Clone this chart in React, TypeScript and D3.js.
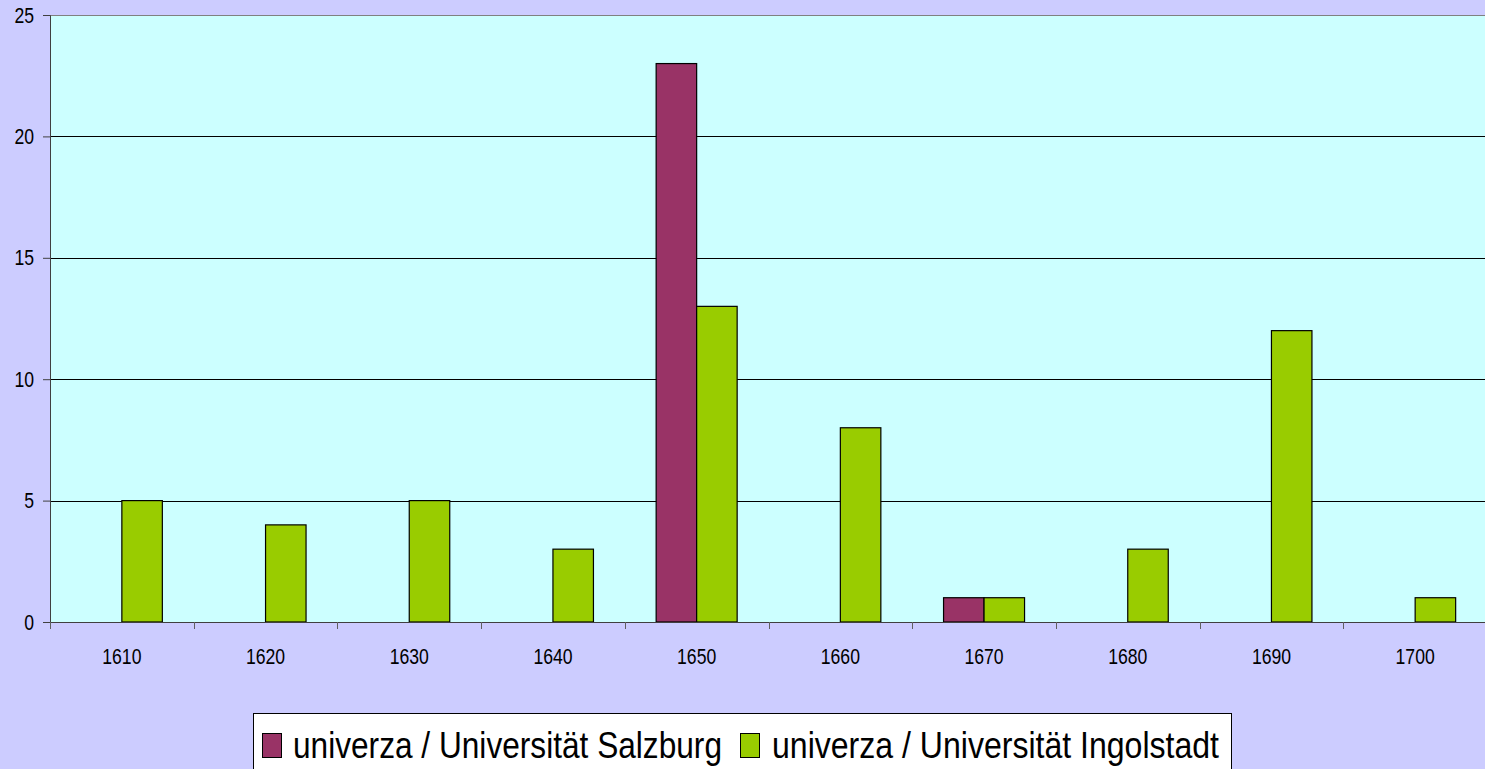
import React, { useEffect, useRef } from 'react';
import * as d3 from 'd3';

const categories = ['1610', '1620', '1630', '1640', '1650', '1660', '1670', '1680', '1690', '1700'];
const salzburg = [0, 0, 0, 0, 23, 0, 1, 0, 0, 0];
const ingolstadt = [5, 4, 5, 3, 13, 8, 1, 3, 12, 1];
const seriesNames = ['univerza / Universität Salzburg', 'univerza / Universität Ingolstadt'];
const seriesColors = ['#993366', '#99cc00'];
const yTicks = [0, 5, 10, 15, 20, 25];

const W = 1485;
const H = 769;
const FONT = '"Liberation Sans", Arial, sans-serif';
const SQUEEZE = 0.8;

const App = () => {
  const ref = useRef<SVGSVGElement>(null);

  useEffect(() => {
    const svg = d3.select(ref.current);
    svg.selectAll('*').remove();

    const left = 50, top = 15, bottom = 622;
    const right = left + 143.7 * categories.length;

    svg.append('rect').attr('width', W).attr('height', H).attr('fill', '#ccccff');

    const x = d3.scaleBand().domain(categories).range([left, right]);
    const y = d3.scaleLinear().domain([0, 25]).range([bottom, top]);
    const barW = 40.5;

    // plot area
    svg.append('rect')
      .attr('x', left).attr('y', top)
      .attr('width', right - left).attr('height', bottom - top)
      .attr('fill', '#ccffff');

    // gridlines
    svg.append('g').selectAll('line')
      .data(yTicks.filter(t => t > 0))
      .join('line')
      .attr('x1', left).attr('x2', right)
      .attr('y1', d => Math.round(y(d)) + 0.5).attr('y2', d => Math.round(y(d)) + 0.5)
      .attr('stroke', d => (d === 25 ? '#808080' : '#000'))
      .attr('stroke-width', 1);

    // bars
    const series = [salzburg, ingolstadt];
    series.forEach((vals, si) => {
      svg.append('g').selectAll('rect')
        .data(vals.map((v, i) => ({ v, c: categories[i] })).filter(d => d.v > 0))
        .join('rect')
        .attr('x', d => (x(d.c) as number) + x.bandwidth() / 2 - barW + si * barW)
        .attr('y', d => y(d.v))
        .attr('width', barW)
        .attr('height', d => bottom - y(d.v))
        .attr('fill', seriesColors[si])
        .attr('stroke', '#000')
        .attr('stroke-width', 1.2);
    });

    // y axis
    const yAxis = svg.append('g').attr('transform', `translate(${left},0)`)
      .call(d3.axisLeft(y).tickValues(yTicks).tickSize(7));
    yAxis.select('.domain').attr('stroke', '#404040');
    yAxis.selectAll('line').attr('stroke', '#404040');
    yAxis.selectAll('text')
      .attr('font-family', FONT).attr('font-size', 22).attr('fill', '#000')
      .attr('x', -16 / SQUEEZE)
      .attr('transform', `scale(${SQUEEZE},1)`);

    // x axis
    const xAxis = svg.append('g').attr('transform', `translate(0,${bottom})`)
      .call(d3.axisBottom(x).tickSize(0).tickPadding(26));
    xAxis.select('.domain').attr('stroke', '#404040');
    xAxis.selectAll('text')
      .attr('font-family', FONT).attr('font-size', 22).attr('fill', '#000')
      .attr('transform', `scale(${SQUEEZE},1)`);
    xAxis.append('g').selectAll('line')
      .data(categories)
      .join('line')
      .attr('x1', d => Math.round(x(d) as number) + 0.5)
      .attr('x2', d => Math.round(x(d) as number) + 0.5)
      .attr('y1', 0).attr('y2', 7)
      .attr('stroke', '#606060');

    // legend
    const legend = svg.append('g');
    legend.append('rect')
      .attr('x', 253.5).attr('y', 713.5).attr('width', 978).attr('height', 70)
      .attr('fill', '#fff').attr('stroke', '#000');
    const swatchX = [262, 740];
    const textX = [293, 772];
    const textW = [429, 447];
    seriesNames.forEach((name, i) => {
      legend.append('rect')
        .attr('x', swatchX[i] + 0.5).attr('y', 733.5).attr('width', 19).attr('height', 24)
        .attr('fill', seriesColors[i]).attr('stroke', '#000');
      legend.append('text')
        .attr('x', textX[i]).attr('y', 758)
        .attr('font-family', FONT).attr('font-size', 37).attr('fill', '#000')
        .attr('textLength', textW[i]).attr('lengthAdjust', 'spacingAndGlyphs')
        .text(name);
    });
  }, []);

  return (
    <svg ref={ref} width={W} height={H} style={{ position: 'absolute', left: 0, top: 0, display: 'block' }} />
  );
};

export default App;
